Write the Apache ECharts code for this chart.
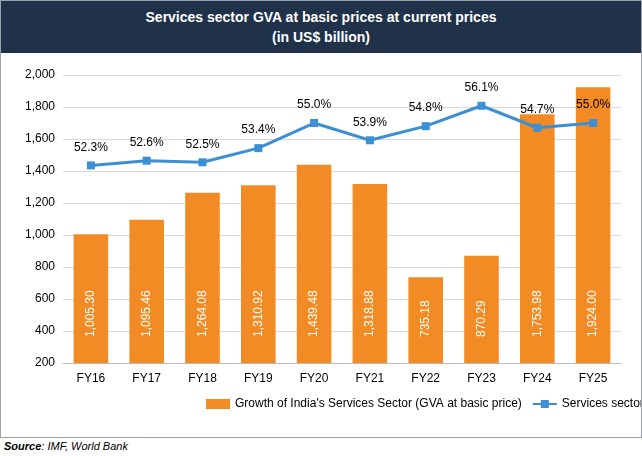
<!DOCTYPE html>
<html><head><meta charset="utf-8">
<script src="https://cdn.jsdelivr.net/npm/echarts@6/dist/echarts.min.js"></script>
<style>
body{margin:0;background:#fff;font-family:Arial,"Liberation Sans",sans-serif;}
#wrap{position:absolute;left:0;top:0;width:640px;height:436px;border:1px solid #9aa3ad;}
#title{position:absolute;left:0;top:0;width:640px;height:52px;background:#1f3249;color:#fff;text-align:center;font-weight:bold;font-size:14px;line-height:20px;padding-top:6px;box-sizing:border-box;}
#c{position:absolute;left:0;top:52px;width:640px;height:384px;}
#src{position:absolute;left:4px;top:440px;font-size:11px;font-style:italic;color:#000;}
</style></head><body>
<div id="wrap"><div id="title">Services sector GVA at basic prices at current prices<br>(in US$ billion)</div><div id="c"></div></div>
<div id="src"><b>Source</b>: IMF, World Bank</div>
<script>
const categories=['FY16','FY17','FY18','FY19','FY20','FY21','FY22','FY23','FY24','FY25'];
const gva=[1005.30,1095.46,1264.08,1310.92,1439.48,1318.88,735.18,870.29,1753.98,1924.00];
const share=[52.3,52.6,52.5,53.4,55.0,53.9,54.8,56.1,54.7,55.0];
const yTicks={min:200,max:2000,interval:200};
const fmt=v=>v.toLocaleString('en-US',{minimumFractionDigits:2,maximumFractionDigits:2});
const ch=echarts.init(document.getElementById('c'));
ch.setOption({
 animation:false,
 grid:{left:62,right:20,top:22,bottom:74},
 legend:{orient:'vertical',left:200,top:340,itemGap:11,itemWidth:24,itemHeight:10,textStyle:{fontSize:12,color:'#000'},
  data:[{name:"Growth of India's Services Sector (GVA at basic price)",icon:'rect'},{name:'Services sector GVA as a percentage of total GVA (in Rs. terms)'}]},
 xAxis:{type:'category',data:categories,axisTick:{show:false},axisLine:{lineStyle:{color:'#bbb'}},axisLabel:{color:'#000',fontSize:12,margin:10}},
 yAxis:[{type:'value',min:yTicks.min,max:yTicks.max,interval:yTicks.interval,axisLabel:{color:'#000',fontSize:12,formatter:v=>v.toLocaleString('en-US')},splitLine:{lineStyle:{color:'#d9d9d9'}}},
  {type:'value',min:39.71,max:58.06,show:false,splitLine:{show:false}}],
 series:[
  {name:"Growth of India's Services Sector (GVA at basic price)",type:'bar',data:gva,barWidth:'62%',itemStyle:{color:'#F38B24'},
   label:{show:true,position:'insideBottom',rotate:90,align:'left',verticalAlign:'middle',distance:26,color:'#fff',fontSize:12,formatter:p=>fmt(p.value)}},
  {name:'Services sector GVA as a percentage of total GVA (in Rs. terms)',type:'line',yAxisIndex:1,data:share,symbol:'rect',symbolSize:8,
   lineStyle:{color:'#3C8FD3',width:3},itemStyle:{color:'#3C8FD3'},
   label:{show:true,position:'top',distance:8,color:'#000',fontSize:12,formatter:p=>p.value.toFixed(1)+'%'}}
 ]
});
</script></body></html>
